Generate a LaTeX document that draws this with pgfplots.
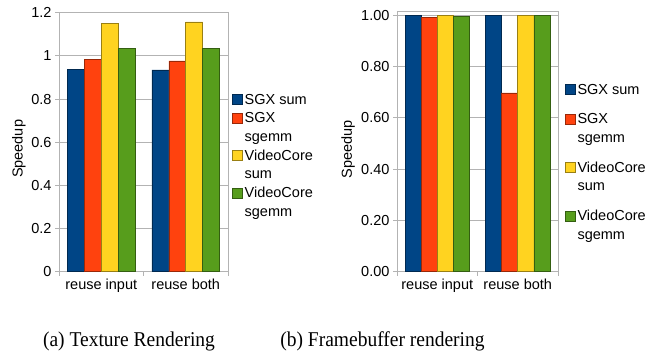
\documentclass[border=0pt]{standalone}
\usepackage{fontspec}
\setmainfont{Liberation Sans}
\newfontfamily\capfont{Liberation Serif}
\usepackage{pgfplots}
\pgfplotsset{compat=1.18}
\definecolor{cblue}{HTML}{004586}
\definecolor{cred}{HTML}{FF420E}
\definecolor{cyellow}{HTML}{FFD320}
\definecolor{cgreen}{HTML}{579D1C}
\definecolor{axgray}{HTML}{B3B3B3}
\pgfplotsset{
  speed/.style={
    scale only axis,
    ybar,
    bar width=0.2,
    xmin=-0.5, xmax=1.5, ymin=0,
    xtick={0,1}, xticklabels={reuse input, reuse both},
    minor xtick={-0.5,0.5,1.5},
    tick pos=left, tick align=outside,
    major x tick style={draw=none},
    major tick length=4pt, minor tick length=4pt,
    tick style={color=axgray, line width=0.8pt},
    axis line style={axgray, line width=0.8pt},
    ymajorgrids, grid style={axgray, line width=0.8pt},
    tick label style={font=\fontsize{14.5}{17}\selectfont},
    /pgf/number format/assume math mode=true,
    ylabel={Speedup},
    label style={font=\fontsize{14.5}{17}\selectfont},
    legend style={draw=none, fill=none, inner sep=0pt, outer sep=0pt,
      font=\fontsize{14.5}{18.5}\selectfont,
      cells={anchor=west, align=left}},
  },
  mybar/.style n args={2}{fill=#1, draw=#1!60!black, line width=0.6pt,
    legend image code/.code={\draw[fill=#1, draw=#1!60!black, line width=0.6pt] (0pt,-5pt+#2) rectangle (10pt,5pt+#2);}},
}
\begin{document}
\begin{tikzpicture}
\useasboundingbox (0,0) rectangle (670pt,352pt);
% left chart
\begin{axis}[speed,
  at={(59pt,80.3pt)}, anchor=south west,
  width=169pt, height=259pt,
  ymax=1.2, ytick={0,0.2,...,1.2},
  ylabel style={at={(axis description cs:-0.237,0.474)}, anchor=center},
  legend style={at={(axis description cs:1.024,0.694)}, anchor=north west, /tikz/row sep=3pt},
]
\addplot[mybar={cblue}{0pt}, bar shift=-0.3] coordinates {(0,0.938) (1,0.935)};
\addplot[mybar={cred}{9.25pt}, bar shift=-0.1] coordinates {(0,0.983) (1,0.977)};
\addplot[mybar={cyellow}{9.25pt}, bar shift=0.1] coordinates {(0,1.150) (1,1.157)};
\addplot[mybar={cgreen}{9.25pt}, bar shift=0.3] coordinates {(0,1.036) (1,1.033)};
\addlegendentry{SGX sum}
\addlegendentry{SGX\\sgemm}
\addlegendentry{VideoCore\\sum}
\addlegendentry{VideoCore\\sgemm}
\end{axis}
% right chart
\begin{axis}[speed,
  at={(397pt,80.3pt)}, anchor=south west,
  width=161pt, height=260pt,
  ymax=1.014, ytick={0,0.2,...,1.0},
  yticklabel style={/pgf/number format/.cd, fixed, fixed zerofill, precision=2},
  ylabel style={at={(axis description cs:-0.304,0.472)}, anchor=center},
  legend style={at={(axis description cs:1.043,0.73)}, anchor=north west, /tikz/row sep=14pt},
]
\addplot[mybar={cblue}{0pt}, bar shift=-0.3] coordinates {(0,1.000) (1,1.000)};
\addplot[mybar={cred}{9.25pt}, bar shift=-0.1] coordinates {(0,0.993) (1,0.697)};
\addplot[mybar={cyellow}{9.25pt}, bar shift=0.1] coordinates {(0,1.000) (1,0.998)};
\addplot[mybar={cgreen}{9.25pt}, bar shift=0.3] coordinates {(0,0.997) (1,0.998)};
\addlegendentry{SGX sum}
\addlegendentry{SGX\\sgemm}
\addlegendentry{VideoCore\\sum}
\addlegendentry{VideoCore\\sgemm}
\end{axis}
\node[font=\capfont\fontsize{19.5}{23}\selectfont, yscale=1.08, transform shape] at (129pt,11pt) {(a) Texture Rendering};
\node[font=\capfont\fontsize{19.5}{23}\selectfont, yscale=1.08, transform shape] at (382.5pt,11pt) {(b) Framebuffer rendering};
\end{tikzpicture}
\end{document}
